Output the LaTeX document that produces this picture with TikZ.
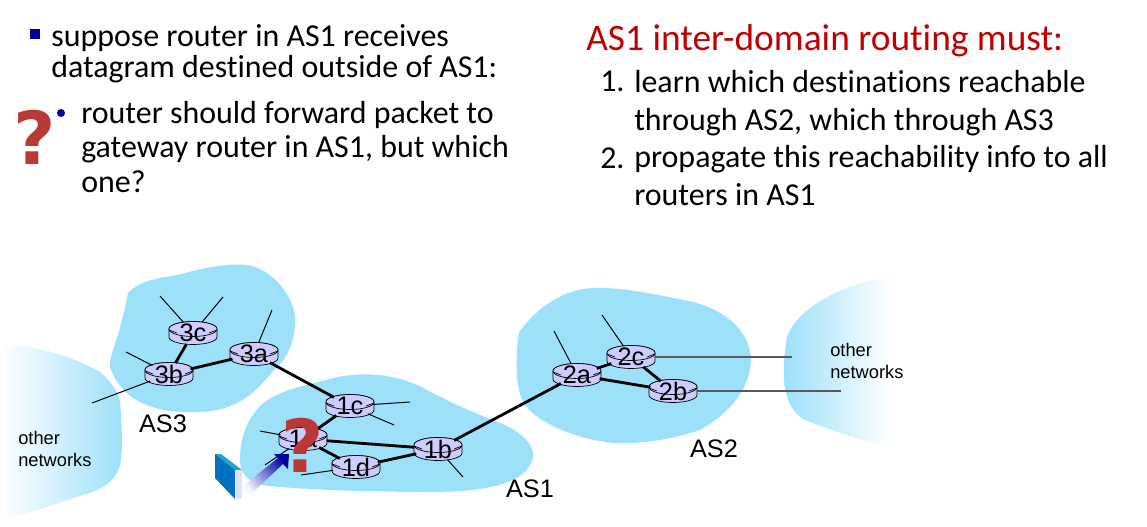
\documentclass[tikz,border=0pt]{standalone}
\usepackage{fontspec}
\setmainfont[Ligatures=NoCommon]{Carlito}
\newfontfamily\arialfont{Liberation Sans}
\newfontfamily\markfont{DejaVu Sans}
\usetikzlibrary{shapes.geometric}
\definecolor{cloudblue}{HTML}{9CE0FA}
\definecolor{routerblue}{HTML}{CCCCFF}
\definecolor{bulletblue}{HTML}{0000A0}
\definecolor{titlered}{HTML}{C00000}
\definecolor{markred}{HTML}{B93A34}
\definecolor{hostblue}{HTML}{0070C0}
\definecolor{hosttop}{HTML}{1FA3D6}
\tikzset{
    routerbox/.style={shape=ellipse,minimum width=34pt,minimum height=16.5pt,inner sep=0pt,outer sep=0pt,label={[font=\arialfont\fontsize{18}{18}\selectfont,inner sep=0pt]center:#1}},
    routerline/.style={draw=black,line width=0.5pt,fill=routerblue},
    bigtext/.style={anchor=base west,align=left,inner sep=0pt,font=\fontsize{22.7}{24.2}\selectfont},
    toptext/.style={anchor=base west,align=left,inner sep=0pt,font=\fontsize{22.7}{22}\selectfont},
    listtext/.style={anchor=base west,align=left,inner sep=0pt,font=\fontsize{22.7}{27}\selectfont},
    aslabel/.style={anchor=center,inner sep=0pt,font=\arialfont\fontsize{18}{18}\selectfont},
    otherlabel/.style={anchor=base west,align=left,inner sep=0pt,font=\arialfont\fontsize{13}{15}\selectfont},
    link/.style={draw=black,line width=2pt},
    stub/.style={draw=black,line width=0.7pt},
    greystub/.style={draw=black!65,line width=0.8pt},
    askmark/.style={text=markred,inner sep=0pt,font=\markfont\bfseries\fontsize{52}{52}\selectfont}
}
% router drum, centred on #1, under the named node drawn after it
\newcommand{\routerbody}[1]{
    \begin{scope}[shift={(#1)}]
        \draw[routerline] (-24,-4) -- (-24,4) arc (180:0:24 and 7.5) -- (24,-4) arc (0:-180:24 and 7.5) -- cycle;
        \draw[routerline] (0,-4) ellipse (24 and 7.5);
        \draw[draw=black,line width=0.5pt] (-24,-3) -- (-16,0) (24,-3) -- (16,0);
    \end{scope}
}
\begin{document}
\begin{tikzpicture}[x=0.025cm,y=-0.025cm]
    \useasboundingbox (0,0) rectangle (1147,527);
    % clouds
    \fill[cloudblue] (110,367) .. controls (110,350) and (118,345) .. (128,293) .. controls (140,280) and (160,278) .. (177,275) .. controls (205,268) and (225,263) .. (247,265) .. controls (270,268) and (295,295) .. (295,320) .. controls (295,345) and (285,360) .. (277,367) .. controls (260,385) and (245,410) .. (200,412) .. controls (170,413) and (125,410) .. (110,367) -- cycle;
    \fill[cloudblue] (240,460) .. controls (240,440) and (245,425) .. (255,412) .. controls (270,390) and (310,385) .. (333,378) .. controls (360,372) and (395,372) .. (427,390) .. controls (455,405) and (480,415) .. (500,423) .. controls (525,433) and (540,450) .. (530,465) .. controls (520,485) and (480,492) .. (430,492) .. controls (380,492) and (300,490) .. (262,485) .. controls (250,482) and (240,475) .. (240,460) -- cycle;
    \fill[cloudblue] (519,332) .. controls (530,318) and (550,295) .. (583,289) .. controls (610,285) and (650,293) .. (683,300) .. controls (715,305) and (750,325) .. (751,360) .. controls (750,385) and (735,410) .. (700,430) .. controls (670,440) and (640,444) .. (615,443) .. controls (580,440) and (540,425) .. (525,405) .. controls (515,390) and (515,360) .. (519,332) -- cycle;
    \shade[left color=white,right color=cloudblue] (0,345) .. controls (35,345) and (70,355) .. (100,372) .. controls (112,382) and (120,395) .. (120,403) .. controls (122,425) and (123,450) .. (120,465) .. controls (115,485) and (95,492) .. (77,497) .. controls (50,505) and (30,515) .. (0,517) -- cycle;
    \shade[left color=cloudblue,right color=white] (787,337) .. controls (795,315) and (820,298) .. (850,287) .. controls (865,281) and (875,279) .. (890,278) -- (890,447) .. controls (860,440) and (830,430) .. (805,420) .. controls (790,412) and (784,395) .. (784,373) .. controls (784,360) and (785,350) .. (787,337) -- cycle;
    % free ends of the short lines
    \coordinate (e3c1) at (160,296);
    \coordinate (e3c2) at (223,297);
    \coordinate (e3a1) at (272,310);
    \coordinate (e3b1) at (126,352);
    \coordinate (e3b2) at (92,403);
    \coordinate (e1a1) at (260,431);
    \coordinate (e1a2) at (265,465);
    \coordinate (e1c1) at (410,402);
    \coordinate (e1c2) at (394,425);
    \coordinate (e1d1) at (301,475);
    \coordinate (e1b1) at (463,477);
    \coordinate (e2a1) at (554,331);
    \coordinate (e2c1) at (602,315);
    \coordinate (e2c2) at (792,357);
    \coordinate (e2b1) at (841,391);
    % routers
    \routerbody{193,333}
    \routerbody{169,374}
    \routerbody{254,354}
    \routerbody{350,406}
    \routerbody{303,439}
    \routerbody{356,467}
    \routerbody{438,449}
    \routerbody{577,375}
    \routerbody{631,357}
    \routerbody{673,391}
    \node[routerbox=3c] (r3c) at (193,333) {};
    \node[routerbox=3b] (r3b) at (169,374) {};
    \node[routerbox=3a] (r3a) at (254,354) {};
    \node[routerbox=1c] (r1c) at (350,406) {};
    \node[routerbox=1a] (r1a) at (303,439) {};
    \node[routerbox=1d] (r1d) at (356,467) {};
    \node[routerbox=1b] (r1b) at (438,449) {};
    \node[routerbox=2a] (r2a) at (577,375) {};
    \node[routerbox=2c] (r2c) at (631,357) {};
    \node[routerbox=2b] (r2b) at (673,391) {};
    % links
    \draw[link] (r3c) -- (r3b);
    \draw[link] (r3b) -- (r3a);
    \draw[link] (r3a) -- (r1c);
    \draw[link] (r1c) -- (r1a);
    \draw[link] (r1a) -- (r1d);
    \draw[link] (r1a) -- (r1b);
    \draw[link] (r1d) -- (r1b);
    \draw[link] (r1b) -- (r2a);
    \draw[link] (r2a) -- (r2c);
    \draw[link] (r2a) -- (r2b);
    \draw[link] (r2c) -- (r2b);
    \draw[stub] (r3c) -- (e3c1);
    \draw[stub] (r3c) -- (e3c2);
    \draw[stub] (r3a) -- (e3a1);
    \draw[stub] (r3b) -- (e3b1);
    \draw[stub] (r3b) -- (e3b2);
    \draw[stub] (r1a) -- (e1a1);
    \draw[stub] (r1a) -- (e1a2);
    \draw[stub] (r1c) -- (e1c1);
    \draw[stub] (r1c) -- (e1c2);
    \draw[stub] (r1d) -- (e1d1);
    \draw[stub] (r1b) -- (e1b1);
    \draw[stub] (r2a) -- (e2a1);
    \draw[stub] (r2c) -- (e2c1);
    \draw[greystub] (r2c) -- (e2c2);
    \draw[greystub] (r2b) -- (e2b1);
    % labels
    \node[aslabel] (as3) at (163,424) {AS3};
    \node[aslabel] (as1) at (530,489) {AS1};
    \node[aslabel] (as2) at (714,449) {AS2};
    \node[otherlabel] (otherl) at (18,466) {other\\networks};
    \node[otherlabel] (otherr) at (830,378) {other\\networks};
    % host and arrow
    \fill[hosttop] (215,454) -- (221,454) -- (242,470) -- (235,470) -- cycle;
    \fill[hostblue] (215,454) -- (235,470) -- (235,499) -- (215,478) -- cycle;
    \fill[blue!12] (236,470) -- (242,470) -- (242,499) -- (236,499) -- cycle;
    \shade[left color=blue!4,middle color=blue!18,right color=blue!65!black,shading angle=130] (243,486) -- (278,458) -- (274,454) -- (289,454) -- (288,469) -- (283,464) -- (250,495) -- cycle;
    \node[askmark] (ask2) at (303,445) {?};
    % text
    \fill[bulletblue] (29.5,29) rectangle (39.5,39);
    \node[toptext] (suppose) at (51,77) {suppose router in AS1 receives\\datagram destined outside of AS1:};
    \fill[bulletblue] (61,113) circle (4);
    \node[bigtext] (forward) at (81,192) {router should forward packet to\\gateway router in AS1, but which\\one?};
    \node[askmark] (ask1) at (35,137) {?};
    \node[anchor=base west,inner sep=0pt,text=titlered,font=\fontsize{26.6}{26.6}\selectfont] (title) at (586,50) {AS1 inter-domain routing must:};
    \node[bigtext] (num1) at (600,91) {1.};
    \node[listtext] (learn) at (634,130) {learn which destinations reachable\\through AS2, which through AS3};
    \node[bigtext] (num2) at (600,168) {2.};
    \node[listtext] (spread) at (634,205) {propagate this reachability info to all\\routers in AS1};
\end{tikzpicture}
\end{document}
